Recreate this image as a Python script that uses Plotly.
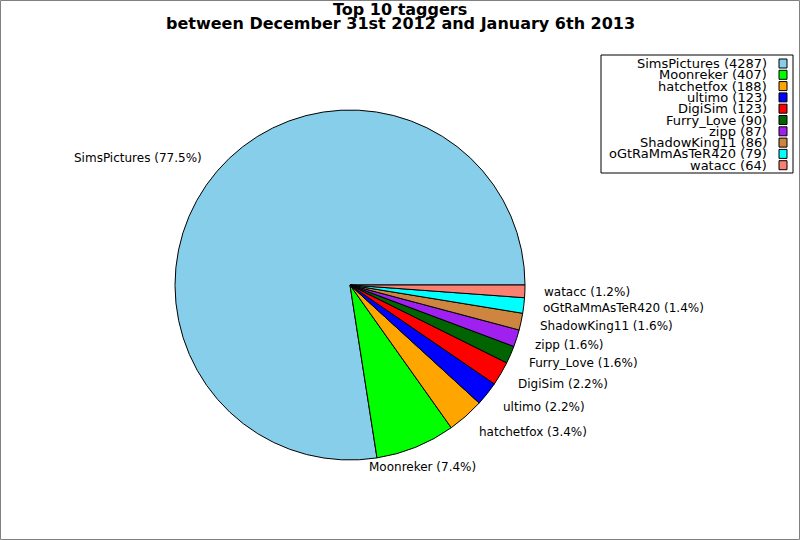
import math
import plotly.graph_objects as go

# data
taggers = ["SimsPictures", "Moonreker", "hatchetfox", "ultimo", "DigiSim",
           "Furry_Love", "zipp", "ShadowKing11", "oGtRaMmAsTeR420", "watacc"]
counts = [4287, 407, 188, 123, 123, 90, 87, 86, 79, 64]
colors = ["#87CEEB", "#00FF00", "#FFA500", "#0000FF", "#FF0000",
          "#006400", "#A020F0", "#CD853F", "#00FFFF", "#FA8072"]
title_lines = ["Top 10 taggers", "between December 31st 2012 and January 6th 2013"]

W, H = 800, 540
cx, cy, r = 350, 285, 175  # pie centre / radius in pixels
total = sum(counts)

# plotly counterclockwise: first slice ends at `rotation`, so shift it
# so that the first slice starts at 3 o'clock like matplotlib
rot = 90 - 360.0 * counts[0] / total

fig = go.Figure(go.Pie(
    labels=taggers, values=counts, sort=False,
    direction="counterclockwise", rotation=rot,
    marker=dict(colors=colors, line=dict(color="black", width=1)),
    textinfo="none", hoverinfo="label+value+percent", showlegend=False,
    domain=dict(x=[(cx - r) / W, (cx + r) / W], y=[(H - cy - r) / H, (H - cy + r) / H]),
))

# slice labels just outside the pie
annotations = []
cum = 0
for name, c in zip(taggers, counts):
    mid = (cum + c / 2) / total * 2 * math.pi
    cum += c
    px = cx + 1.1 * r * math.cos(mid)
    py = cy - 1.12 * r * math.sin(mid)
    if abs(math.cos(mid)) < 0.5:
        anchor = "center"
    else:
        anchor = "left" if math.cos(mid) > 0 else "right"
    annotations.append(dict(
        x=px / W, y=1 - py / H, xref="paper", yref="paper",
        text="%s (%.1f%%)" % (name, 100.0 * c / total), showarrow=False,
        xanchor=anchor, yanchor="middle",
        font=dict(size=12, color="black")))

# title (two tight lines)
for i, line in enumerate(title_lines):
    annotations.append(dict(
        x=0.5, y=1 - (10 + 13 * i) / H, xref="paper", yref="paper",
        text="<b>%s</b>" % line, showarrow=False,
        xanchor="center", yanchor="middle", font=dict(size=16, color="black")))

# legend box, matplotlib style (swatch right of text)
shapes = [
    dict(type="rect", xref="paper", yref="paper", x0=0.5 / W, x1=1 - 0.5 / W,
         y0=0.5 / H, y1=1 - 0.5 / H, line=dict(color="#808080", width=1)),
    dict(type="rect", xref="paper", yref="paper", x0=601 / W, x1=793 / W,
         y0=1 - 173 / H, y1=1 - 55 / H, line=dict(color="black", width=1),
         fillcolor="white"),
]
row0, step = 63.5, 11.3
for i, (name, c, col) in enumerate(zip(taggers, counts, colors)):
    yy = row0 + i * step
    annotations.append(dict(
        x=769 / W, y=1 - yy / H, xref="paper", yref="paper",
        text="%s (%d)" % (name, c), showarrow=False,
        xanchor="right", yanchor="middle", font=dict(size=13, color="black")))
    shapes.append(dict(
        type="rect", xref="paper", yref="paper", x0=779 / W, x1=787 / W,
        y0=1 - (yy + 4.5) / H, y1=1 - (yy - 4.5) / H,
        line=dict(color="black", width=1), fillcolor=col))

fig.update_layout(
    width=W, height=H, margin=dict(l=0, r=0, t=0, b=0),
    paper_bgcolor="white", plot_bgcolor="white",
    font=dict(family="DejaVu Sans", size=12, color="black"),
    annotations=annotations, shapes=shapes,
)

fig.write_html("out.html", config={"displayModeBar": False},
               post_script="document.body.style.margin='0';")
